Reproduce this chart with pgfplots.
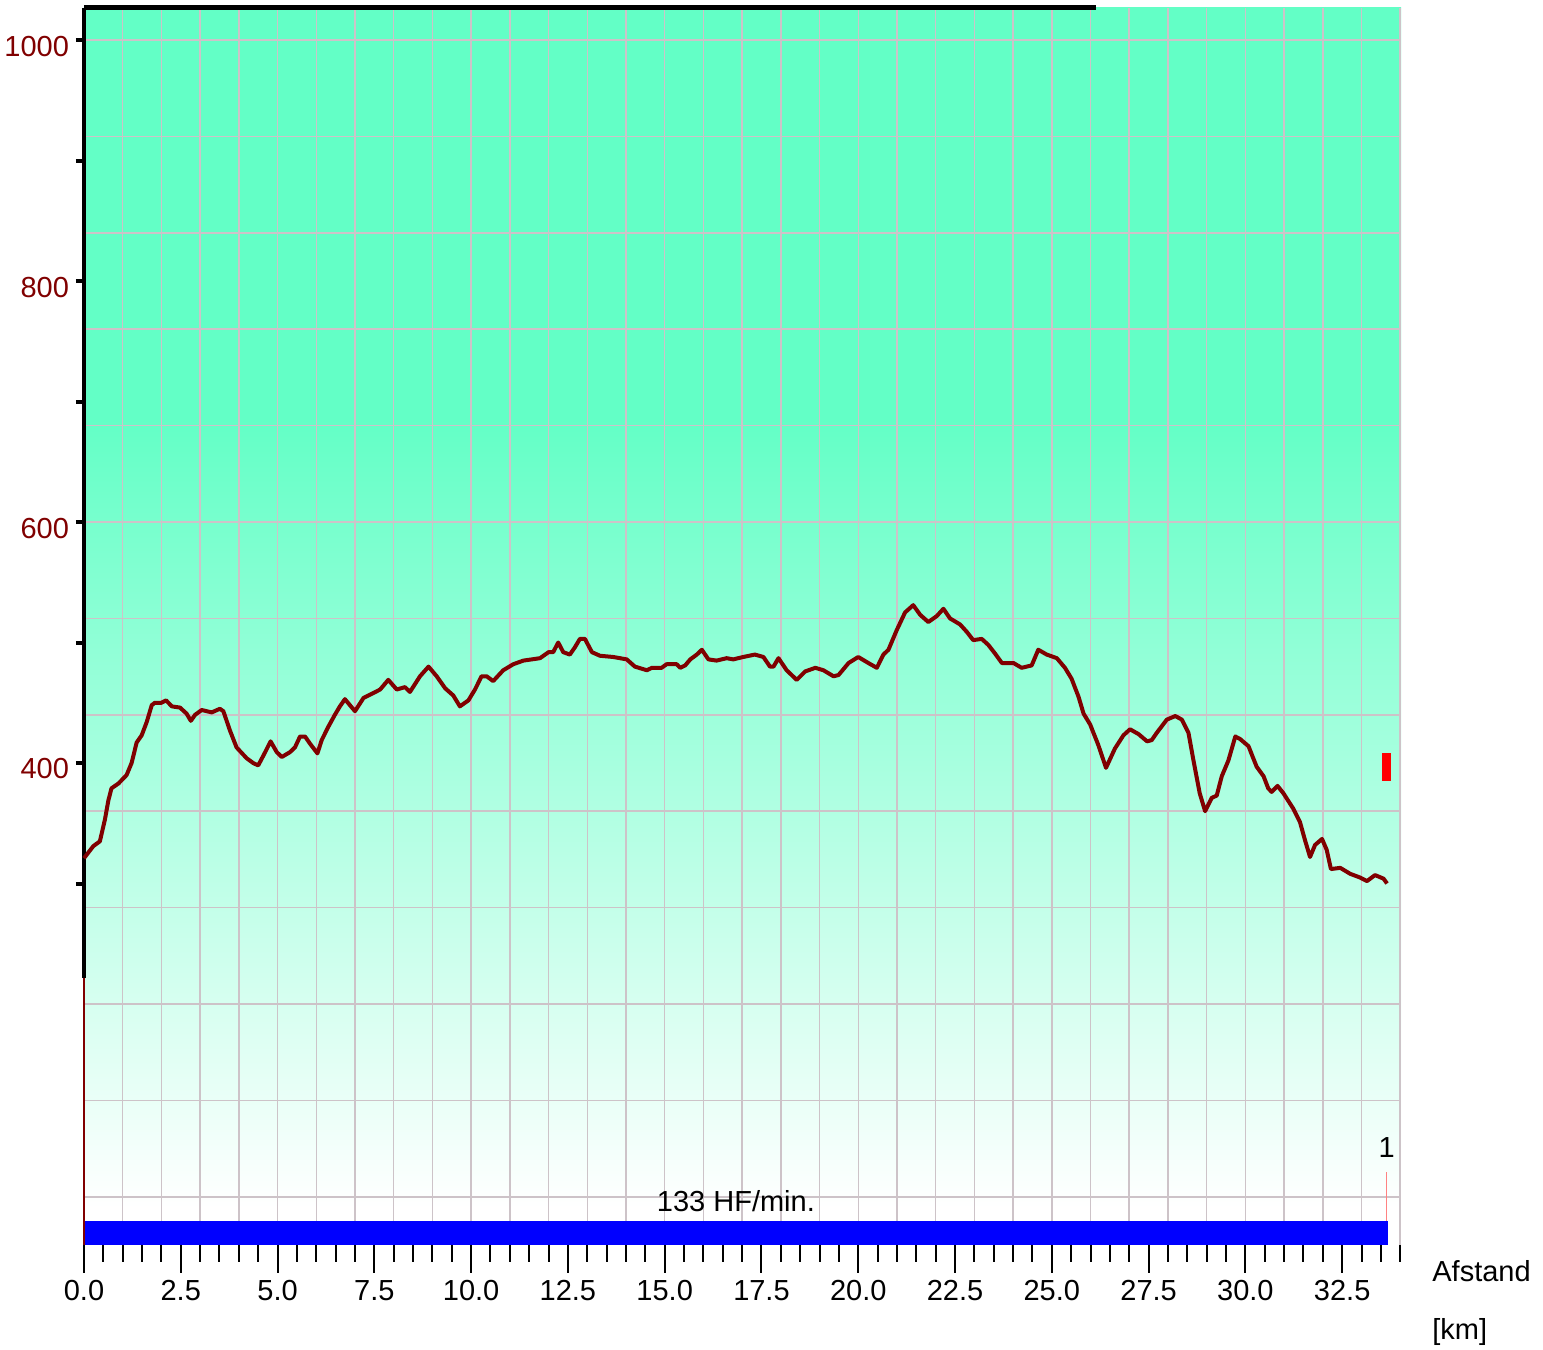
\documentclass[border=0pt]{standalone}
\usepackage{pgfplots}
\pgfplotsset{compat=1.18}
\usepackage{fontspec}
\setmainfont{Liberation Sans}
\definecolor{mint}{RGB}{99,255,198}
\definecolor{gridc}{RGB}{205,195,200}
\definecolor{elev}{RGB}{128,0,0}
\definecolor{lapred}{RGB}{255,130,130}
\pgfdeclareverticalshading{bgshade}{100bp}{color(0bp)=(white); color(26.5bp)=(white); color(58.4bp)=(mint); color(100bp)=(mint)}
\pgfplotsset{base/.style={at={(0,0)}, anchor=south west, scale only axis,
  width=658.5pt, height=618.5pt, xmin=0, xmax=34.02, ymin=0, ymax=1026.6,
  axis line style={draw=none}, font=\fontsize{14.5}{16}\selectfont,
  /pgf/number format/assume math mode=true, /pgf/number format/1000 sep={}}}
\begin{document}
\begin{tikzpicture}
\useasboundingbox (-42pt,-52.5pt) rectangle (729.5pt,622.5pt);
% background and grid
\begin{axis}[base, axis background/.style={shading=bgshade},
  xtick={1,2,...,34}, ytick={40,120,...,1000}, grid=major,
  major grid style={gridc, line width=0.75pt}, major tick length=0pt,
  xticklabels={}, yticklabels={}]
\addplot[draw=none] coordinates {(0,0)};
\end{axis}
% main data + x axis
\begin{axis}[base, clip=false,
  xtick={0,2.5,...,32.5}, minor xtick={0,0.5,...,34}, ytick=\empty,
  xtick pos=bottom, tick align=outside, major tick length=14pt, minor tick length=8.5pt,
  tick style={black, line width=1pt},
  xticklabel style={/pgf/number format/fixed, /pgf/number format/fixed zerofill, /pgf/number format/precision=1}]
\addplot[fill=blue, draw=none] coordinates {(0,20)(33.68,20)} \closedcycle;
\addplot[fill=red, draw=none] coordinates {(33.54,385)(33.54,408.5)(33.75,408.5)(33.75,385)} -- cycle;
\addplot[lapred, line width=0.6pt] coordinates {(33.65,20)(33.65,60.6)};
\addplot[elev, line width=1pt] coordinates {(0,0)(0,222)};
\addplot[black, line width=1.6pt] coordinates {(0,222)(0,1026.6)};
\addplot[black, line width=2.5pt] coordinates {(0,1026.6)(26.14,1026.6)};
\addplot[elev, line width=2pt, line join=round] coordinates {
(0,321) (0.24,331) (0.41,335) (0.54,353) (0.63,369) (0.71,379) (0.89,383) (1.10,390) (1.23,400) (1.36,417) (1.49,423) (1.62,434) (1.75,448) (1.83,450) (2.0,450) (2.12,452) (2.27,447) (2.48,446) (2.65,441) (2.76,435) (2.87,440) (3.04,444) (3.30,442) (3.51,445) (3.60,443) (3.77,427) (3.94,413) (4.20,404) (4.37,400) (4.50,398) (4.68,409) (4.82,418) (4.98,409) (5.11,405) (5.32,409) (5.45,413) (5.58,422) (5.71,422) (5.84,416) (6.03,408) (6.14,419) (6.31,430) (6.48,440) (6.61,447) (6.74,453) (7.0,443) (7.22,454) (7.47,458) (7.65,461) (7.86,469) (8.08,461) (8.29,463) (8.42,459) (8.68,472) (8.90,480) (9.11,472) (9.33,462) (9.54,456) (9.71,447) (9.93,452) (10.10,461) (10.27,472) (10.40,472) (10.57,468) (10.83,477) (11.09,482) (11.35,485) (11.78,487) (12.0,492) (12.12,492) (12.25,500) (12.38,492) (12.55,490) (12.68,496) (12.81,503) (12.94,503) (13.12,492) (13.33,489) (13.67,488) (14.02,486) (14.23,480) (14.54,477) (14.67,479) (14.92,479) (15.05,482) (15.31,482) (15.40,479) (15.53,481) (15.66,486) (15.83,490) (15.96,494) (16.13,486) (16.34,485) (16.60,487) (16.77,486) (17.03,488) (17.33,490) (17.55,488) (17.72,480) (17.81,480) (17.94,487) (18.15,477) (18.41,469) (18.63,476) (18.89,479) (19.10,477) (19.36,472) (19.49,473) (19.75,483) (20.0,488) (20.26,483) (20.48,479) (20.65,490) (20.78,494) (20.99,510) (21.21,525) (21.42,531) (21.60,523) (21.81,517) (22.03,522) (22.20,528) (22.37,520) (22.63,515) (22.80,509) (22.97,502) (23.19,503) (23.36,498) (23.53,491) (23.71,483) (24.01,483) (24.22,479) (24.48,481) (24.65,494) (24.87,490) (25.13,487) (25.34,479) (25.51,470) (25.69,455) (25.82,441) (25.99,432) (26.20,415) (26.40,396) (26.63,412) (26.85,423) (27.02,428) (27.24,424) (27.46,418) (27.58,419) (27.71,425) (27.97,436) (28.19,439) (28.36,436) (28.53,425) (28.66,402) (28.82,375) (28.96,360) (29.13,371) (29.26,373) (29.39,389) (29.56,402) (29.74,422) (29.86,420) (30.08,414) (30.29,397) (30.47,389) (30.59,379) (30.68,376) (30.83,381) (30.98,375) (31.24,362) (31.41,351) (31.54,336) (31.67,322) (31.80,332) (31.98,337) (32.10,328) (32.21,312) (32.45,313) (32.71,308) (32.96,305) (33.14,302) (33.35,307) (33.57,304) (33.66,300)
};
\node[inner sep=0pt] at (axis cs:16.84,36) {133 HF/min.};
\node[inner sep=0pt] at (axis cs:33.65,81) {1};
\node[inner sep=0pt, anchor=west] at (axis cs:34.82,-21.6) {Afstand};
\node[inner sep=0pt, anchor=west] at (axis cs:34.82,-72.2) {[km]};
\end{axis}
% y axis ticks and labels
\begin{axis}[base, xtick=\empty, ytick={400,600,800,1000}, minor ytick={300,500,700,900},
  ytick pos=left, tick align=outside, major tick length=4pt, minor tick length=4pt,
  tick style={black, line width=2pt}, yticklabel style={color=elev, yshift=-3pt}]
\addplot[draw=none] coordinates {(0,0)};
\end{axis}
\end{tikzpicture}
\end{document}
